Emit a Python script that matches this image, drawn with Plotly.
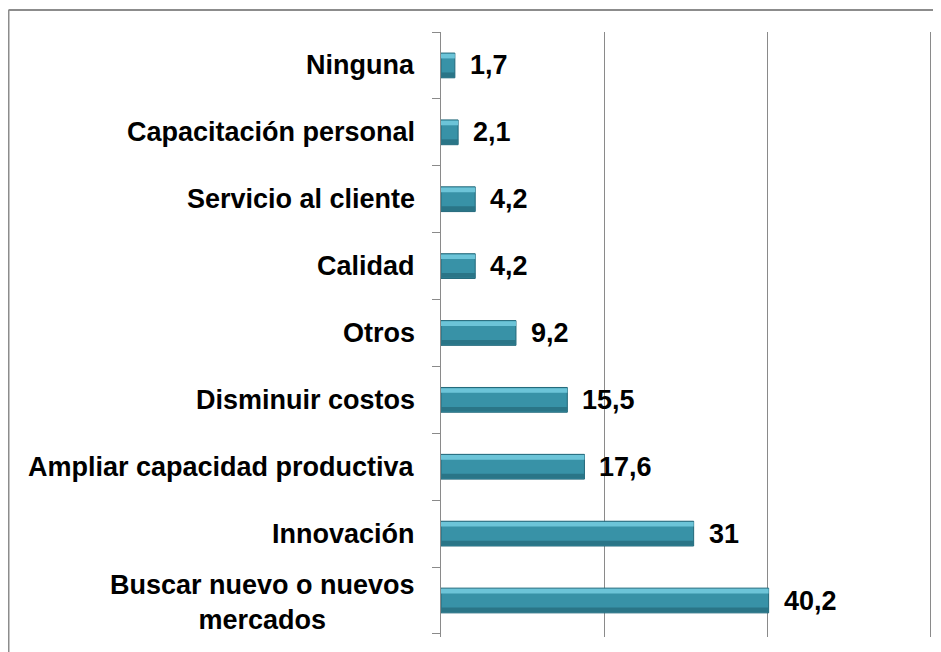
import plotly.graph_objects as go

categories = [
    "Buscar nuevo o nuevos<br>mercados",
    "Innovación",
    "Ampliar capacidad productiva",
    "Disminuir costos",
    "Otros",
    "Calidad",
    "Servicio al cliente",
    "Capacitación personal",
    "Ninguna",
]
values = [40.2, 31, 17.6, 15.5, 9.2, 4.2, 4.2, 2.1, 1.7]
x_ticks = [0, 20, 40, 60]

FONT = "Arial, Liberation Sans, sans-serif"
FSIZE = 27
BAR_W = 0.37
STRIP = 0.07
GRID = "#8a8a8a"

fig = go.Figure()
# main bar body
fig.add_trace(go.Bar(
    x=values, y=categories, orientation="h", width=BAR_W,
    marker=dict(color="#3892a7", line=dict(color="#22687a", width=1)),
    hoverinfo="x+y", showlegend=False,
))
# top highlight strip
fig.add_trace(go.Bar(
    x=values, y=categories, orientation="h", width=STRIP,
    offset=BAR_W / 2 - STRIP - 0.01,
    marker=dict(color="#6cc4d8", line=dict(width=0)),
    hoverinfo="skip", showlegend=False,
))
# bottom shade strip
fig.add_trace(go.Bar(
    x=values, y=categories, orientation="h", width=STRIP,
    offset=-BAR_W / 2 + 0.01,
    marker=dict(color="#2a7587", line=dict(width=0)),
    hoverinfo="skip", showlegend=False,
))

annotations = []
for c, v in zip(categories, values):
    annotations.append(dict(
        x=v, y=c, xref="x", yref="y", text="<b>" + str(v).replace(".", ",") + "</b>",
        showarrow=False, xanchor="left", xshift=13,
        font=dict(family=FONT, size=FSIZE, color="#000000"),
    ))
    multi = "<br>" in c
    annotations.append(dict(
        x=0, y=c, xref="paper", yref="y", text="<b>" + c + "</b>",
        showarrow=False, xanchor="right", xshift=-24, align="center",
        yshift=-2 if multi else 0,
        font=dict(family=FONT, size=FSIZE, color="#000000"),
    ))

# page body has an 8px margin; figure is placed at (8, 8)
px_l, px_w = 441, 489
px_t, px_h = 32, 605
fx = (8.5 - px_l) / px_w
fy = (px_t + px_h - 10) / px_h
shapes = [
    dict(type="line", xref="paper", yref="paper", x0=fx, x1=1.0225, y0=fy, y1=fy,
         line=dict(color="#8c8c8c", width=2)),
    dict(type="line", xref="paper", yref="paper", x0=fx, x1=fx, y0=fy, y1=-0.03,
         line=dict(color="#8c8c8c", width=2)),
]

fig.update_layout(
    width=933, height=644,
    margin=dict(l=433, r=11, t=24, b=15),
    paper_bgcolor="white", plot_bgcolor="white",
    barmode="overlay",
    annotations=annotations, shapes=shapes,
    xaxis=dict(range=[0, 60], tickvals=x_ticks, showticklabels=False,
               showgrid=True, gridcolor=GRID, gridwidth=1.3,
               zeroline=False, showline=False, fixedrange=True),
    yaxis=dict(showticklabels=False, showline=True, mirror=True,
               linecolor=GRID, linewidth=1.3,
               ticks="outside", tickson="boundaries", ticklen=8, tickcolor=GRID,
               tickwidth=1.3, showgrid=False, fixedrange=True),
    font=dict(family=FONT),
)

fig.write_html("out.html")
